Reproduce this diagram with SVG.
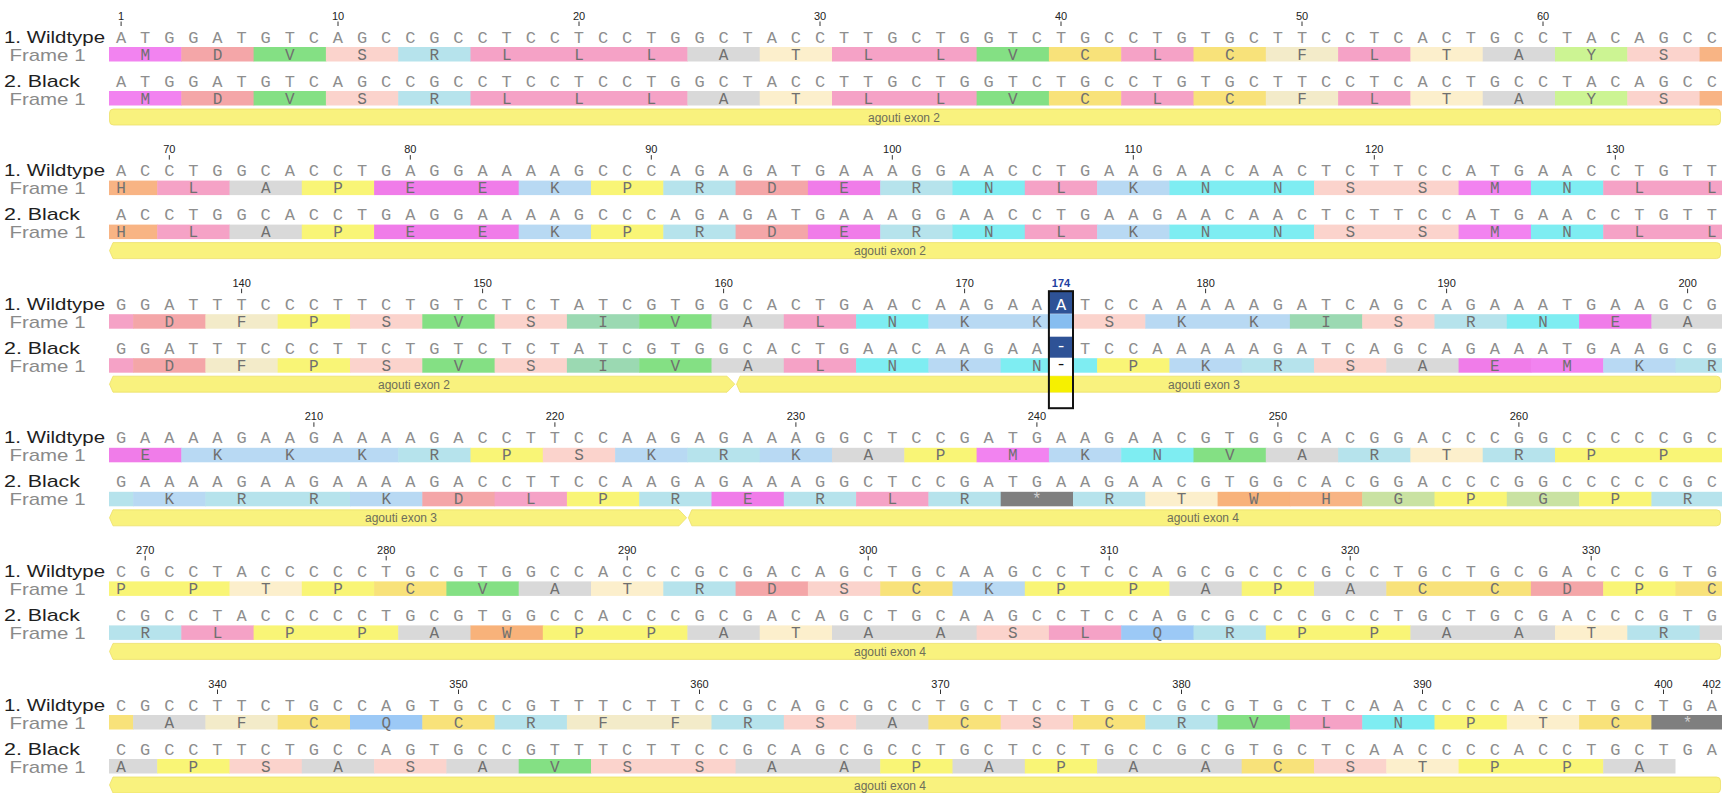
<svg xmlns="http://www.w3.org/2000/svg" width="1722" height="793" viewBox="0 0 1722 793">
<style>
.lab{font-family:"Liberation Sans",Arial,sans-serif;font-size:17px;fill:#1e1e1e}
.frm{font-family:"Liberation Sans",Arial,sans-serif;font-size:17px;fill:#8a8a8a}
.num{font-family:"Liberation Sans",Arial,sans-serif;font-size:11px;fill:#222;text-anchor:middle}
.sel{font-family:"Liberation Sans",Arial,sans-serif;font-size:11px;font-weight:bold;fill:#1f3f9f;text-anchor:middle}
.tk{stroke:#333;stroke-width:1;fill:none}
.seq{font-family:"Liberation Mono","Courier New",monospace;font-size:17px;letter-spacing:13.9px;fill:#8e8e8e}
.e{letter-spacing:0}
.aa{font-family:"Liberation Mono","Courier New",monospace;font-size:16px;fill:#707070;text-anchor:middle}
.ft{fill:#f9f27e;stroke:#ece06a;stroke-width:0.8}
.fl{font-family:"Liberation Sans",Arial,sans-serif;font-size:12px;fill:#6e6e5a;text-anchor:middle}
.hl{font-family:"Liberation Mono","Courier New",monospace;font-size:17px;text-anchor:middle}
.aM{fill:#f283f0}.aD{fill:#f4a6a8}.aV{fill:#84e084}.aS{fill:#fbd3cc}.aR{fill:#b6e3ec}
.aL{fill:#f5a2c6}.aA{fill:#d9d9d9}.aT{fill:#fcefcc}.aC{fill:#f8e27a}.aF{fill:#f3ebc9}
.aY{fill:#ccf493}.aH{fill:#f8b484}.aP{fill:#f9f576}.aE{fill:#f07ce9}.aK{fill:#b8d9f3}
.aN{fill:#7eedf2}.aI{fill:#9bd9b2}.aQ{fill:#9cc9f6}.aW{fill:#f8b27a}.aG{fill:#c9e2a2}.aX{fill:#7f7f7f}
</style>
<rect width="1722" height="793" fill="#ffffff"/>

<!-- Block 1 : 1-67 -->
<g id="block1">
<path class="tk" d="M121.1 21.5v4.5M338 21.5v4.5M579 21.5v4.5M820 21.5v4.5M1061 21.5v4.5M1302 21.5v4.5M1543 21.5v4.5"/>
<text class="num" x="121.1" y="19.5">1</text><text class="num" x="338" y="19.5">10</text><text class="num" x="579" y="19.5">20</text><text class="num" x="820" y="19.5">30</text><text class="num" x="1061" y="19.5">40</text><text class="num" x="1302" y="19.5">50</text><text class="num" x="1543" y="19.5">60</text>
<text class="lab" x="4" y="42.5" textLength="101" lengthAdjust="spacingAndGlyphs">1. Wildtype</text>
<text class="frm" x="9.5" y="60.5" textLength="76" lengthAdjust="spacingAndGlyphs">Frame 1</text>
<text class="lab" x="4" y="86.5" textLength="76" lengthAdjust="spacingAndGlyphs">2. Black</text>
<text class="frm" x="9.5" y="104.5" textLength="76" lengthAdjust="spacingAndGlyphs">Frame 1</text>
<text class="seq" x="115.95" y="42.5">ATGGATGTCAGCCGCCTCCTCCTGGCTACCTTGCTGGTCTGCCTGTGCTTCCTCACTGCCTACAGC<tspan class="e">C</tspan></text>
<text class="seq" x="115.95" y="86.5">ATGGATGTCAGCCGCCTCCTCCTGGCTACCTTGCTGGTCTGCCTGTGCTTCCTCACTGCCTACAGC<tspan class="e">C</tspan></text>
<g id="b1wt" transform="translate(0,47)">
<rect class="aM" x="109" width="72.8" height="14.5"/><rect class="aD" x="181.3" width="72.8" height="14.5"/><rect class="aV" x="253.6" width="72.8" height="14.5"/><rect class="aS" x="325.9" width="72.8" height="14.5"/><rect class="aR" x="398.2" width="72.8" height="14.5"/><rect class="aL" x="470.5" width="217.4" height="14.5"/><rect class="aA" x="687.4" width="72.8" height="14.5"/><rect class="aT" x="759.7" width="72.8" height="14.5"/><rect class="aL" x="832" width="145.1" height="14.5"/><rect class="aV" x="976.6" width="72.8" height="14.5"/><rect class="aC" x="1048.9" width="72.8" height="14.5"/><rect class="aL" x="1121.2" width="72.8" height="14.5"/><rect class="aC" x="1193.5" width="72.8" height="14.5"/><rect class="aF" x="1265.8" width="72.8" height="14.5"/><rect class="aL" x="1338.1" width="72.8" height="14.5"/><rect class="aT" x="1410.4" width="72.8" height="14.5"/><rect class="aA" x="1482.7" width="72.8" height="14.5"/><rect class="aY" x="1555" width="72.8" height="14.5"/><rect class="aS" x="1627.3" width="72.8" height="14.5"/><rect class="aH" x="1699.6" width="24.6" height="14.5"/>
</g>
<g id="b1bk" transform="translate(0,91)">
<rect class="aM" x="109" width="72.8" height="14.5"/><rect class="aD" x="181.3" width="72.8" height="14.5"/><rect class="aV" x="253.6" width="72.8" height="14.5"/><rect class="aS" x="325.9" width="72.8" height="14.5"/><rect class="aR" x="398.2" width="72.8" height="14.5"/><rect class="aL" x="470.5" width="217.4" height="14.5"/><rect class="aA" x="687.4" width="72.8" height="14.5"/><rect class="aT" x="759.7" width="72.8" height="14.5"/><rect class="aL" x="832" width="145.1" height="14.5"/><rect class="aV" x="976.6" width="72.8" height="14.5"/><rect class="aC" x="1048.9" width="72.8" height="14.5"/><rect class="aL" x="1121.2" width="72.8" height="14.5"/><rect class="aC" x="1193.5" width="72.8" height="14.5"/><rect class="aF" x="1265.8" width="72.8" height="14.5"/><rect class="aL" x="1338.1" width="72.8" height="14.5"/><rect class="aT" x="1410.4" width="72.8" height="14.5"/><rect class="aA" x="1482.7" width="72.8" height="14.5"/><rect class="aY" x="1555" width="72.8" height="14.5"/><rect class="aS" x="1627.3" width="72.8" height="14.5"/><rect class="aH" x="1699.6" width="24.6" height="14.5"/>
</g>
<text class="aa" y="59.5" x="145.2 217.5 289.8 362.1 434.4 506.7 579 651.3 723.6 795.9 868.2 940.5 1012.8 1085.1 1157.4 1229.7 1302 1374.3 1446.6 1518.9 1591.2 1663.5">MDVSRLLLATLLVCLCFLTAYS</text>
<text class="aa" y="103.5" x="145.2 217.5 289.8 362.1 434.4 506.7 579 651.3 723.6 795.9 868.2 940.5 1012.8 1085.1 1157.4 1229.7 1302 1374.3 1446.6 1518.9 1591.2 1663.5">MDVSRLLLATLLVCLCFLTAYS</text>
<rect class="ft" x="109.5" y="109" width="1611" height="16" rx="4"/>
<text class="fl" x="904" y="121.5">agouti exon 2</text>
</g>

<!-- Block 2 : 68-134 -->
<g id="block2" transform="translate(0,133.6)">
<path class="tk" d="M169.3 21.5v4.5M410.3 21.5v4.5M651.3 21.5v4.5M892.3 21.5v4.5M1133.3 21.5v4.5M1374.3 21.5v4.5M1615.3 21.5v4.5"/>
<text class="num" x="169.3" y="19.5">70</text><text class="num" x="410.3" y="19.5">80</text><text class="num" x="651.3" y="19.5">90</text><text class="num" x="892.3" y="19.5">100</text><text class="num" x="1133.3" y="19.5">110</text><text class="num" x="1374.3" y="19.5">120</text><text class="num" x="1615.3" y="19.5">130</text>
<text class="lab" x="4" y="42.5" textLength="101" lengthAdjust="spacingAndGlyphs">1. Wildtype</text>
<text class="frm" x="9.5" y="60.5" textLength="76" lengthAdjust="spacingAndGlyphs">Frame 1</text>
<text class="lab" x="4" y="86.5" textLength="76" lengthAdjust="spacingAndGlyphs">2. Black</text>
<text class="frm" x="9.5" y="104.5" textLength="76" lengthAdjust="spacingAndGlyphs">Frame 1</text>
<text class="seq" x="115.95" y="42.5">ACCTGGCACCTGAGGAAAAGCCCAGAGATGAAAGGAACCTGAAGAACAACTCTTCCATGAACCTGT<tspan class="e">T</tspan></text>
<text class="seq" x="115.95" y="86.5">ACCTGGCACCTGAGGAAAAGCCCAGAGATGAAAGGAACCTGAAGAACAACTCTTCCATGAACCTGT<tspan class="e">T</tspan></text>
<g id="b2wt" transform="translate(0,47)">
<rect class="aH" x="109" width="48.7" height="14.5"/><rect class="aL" x="157.2" width="72.8" height="14.5"/><rect class="aA" x="229.5" width="72.8" height="14.5"/><rect class="aP" x="301.8" width="72.8" height="14.5"/><rect class="aE" x="374.1" width="145.1" height="14.5"/><rect class="aK" x="518.7" width="72.8" height="14.5"/><rect class="aP" x="591" width="72.8" height="14.5"/><rect class="aR" x="663.3" width="72.8" height="14.5"/><rect class="aD" x="735.6" width="72.8" height="14.5"/><rect class="aE" x="807.9" width="72.8" height="14.5"/><rect class="aR" x="880.2" width="72.8" height="14.5"/><rect class="aN" x="952.5" width="72.8" height="14.5"/><rect class="aL" x="1024.8" width="72.8" height="14.5"/><rect class="aK" x="1097.1" width="72.8" height="14.5"/><rect class="aN" x="1169.4" width="145.1" height="14.5"/><rect class="aS" x="1314" width="145.1" height="14.5"/><rect class="aM" x="1458.6" width="72.8" height="14.5"/><rect class="aN" x="1530.9" width="72.8" height="14.5"/><rect class="aL" x="1603.2" width="121" height="14.5"/>
</g>
<g id="b2bk" transform="translate(0,91)">
<rect class="aH" x="109" width="48.7" height="14.5"/><rect class="aL" x="157.2" width="72.8" height="14.5"/><rect class="aA" x="229.5" width="72.8" height="14.5"/><rect class="aP" x="301.8" width="72.8" height="14.5"/><rect class="aE" x="374.1" width="145.1" height="14.5"/><rect class="aK" x="518.7" width="72.8" height="14.5"/><rect class="aP" x="591" width="72.8" height="14.5"/><rect class="aR" x="663.3" width="72.8" height="14.5"/><rect class="aD" x="735.6" width="72.8" height="14.5"/><rect class="aE" x="807.9" width="72.8" height="14.5"/><rect class="aR" x="880.2" width="72.8" height="14.5"/><rect class="aN" x="952.5" width="72.8" height="14.5"/><rect class="aL" x="1024.8" width="72.8" height="14.5"/><rect class="aK" x="1097.1" width="72.8" height="14.5"/><rect class="aN" x="1169.4" width="145.1" height="14.5"/><rect class="aS" x="1314" width="145.1" height="14.5"/><rect class="aM" x="1458.6" width="72.8" height="14.5"/><rect class="aN" x="1530.9" width="72.8" height="14.5"/><rect class="aL" x="1603.2" width="121" height="14.5"/>
</g>
<text class="aa" y="59.5" x="121.1 193.4 265.7 338 410.3 482.6 554.9 627.2 699.5 771.8 844.1 916.4 988.7 1061 1133.3 1205.6 1277.9 1350.2 1422.5 1494.8 1567.1 1639.4 1711.7">HLAPEEKPRDERNLKNNSSMNLL</text>
<text class="aa" y="103.5" x="121.1 193.4 265.7 338 410.3 482.6 554.9 627.2 699.5 771.8 844.1 916.4 988.7 1061 1133.3 1205.6 1277.9 1350.2 1422.5 1494.8 1567.1 1639.4 1711.7">HLAPEEKPRDERNLKNNSSMNLL</text>
<path class="ft" d="M113 109H1716.5Q1720.5 109 1720.5 113V121Q1720.5 125 1716.5 125H113L109.5 117Z"/>
<text class="fl" x="890" y="121.5">agouti exon 2</text>
</g>

<!-- Block 3 : 135-201 -->
<g id="block3" transform="translate(0,267.2)">
<path class="tk" d="M241.6 21.5v4.5M482.6 21.5v4.5M723.6 21.5v4.5M964.6 21.5v4.5M1205.6 21.5v4.5M1446.6 21.5v4.5M1687.6 21.5v4.5"/>
<text class="num" x="241.6" y="19.5">140</text><text class="num" x="482.6" y="19.5">150</text><text class="num" x="723.6" y="19.5">160</text><text class="num" x="964.6" y="19.5">170</text><text class="num" x="1205.6" y="19.5">180</text><text class="num" x="1446.6" y="19.5">190</text><text class="num" x="1687.6" y="19.5">200</text>
<text class="lab" x="4" y="42.5" textLength="101" lengthAdjust="spacingAndGlyphs">1. Wildtype</text>
<text class="frm" x="9.5" y="60.5" textLength="76" lengthAdjust="spacingAndGlyphs">Frame 1</text>
<text class="lab" x="4" y="86.5" textLength="76" lengthAdjust="spacingAndGlyphs">2. Black</text>
<text class="frm" x="9.5" y="104.5" textLength="76" lengthAdjust="spacingAndGlyphs">Frame 1</text>
<text class="seq" x="115.95" y="42.5">GGATTTCCCTTCTGTCTCTATCGTGGCACTGAACAAGA<tspan class="e">A</tspan></text>
<text class="seq" x="1079.95" y="42.5">TCCAAAAAGATCAGCAGAAATGAAGC<tspan class="e">G</tspan></text>
<text class="seq" x="115.95" y="86.5">GGATTTCCCTTCTGTCTCTATCGTGGCACTGAACAAGA<tspan class="e">A</tspan></text>
<text class="seq" x="1079.95" y="86.5">TCCAAAAAGATCAGCAGAAATGAAGC<tspan class="e">G</tspan></text>
<g id="b3wt" transform="translate(0,47)">
<rect class="aL" x="109" width="24.6" height="14.5"/><rect class="aD" x="133.1" width="72.8" height="14.5"/><rect class="aF" x="205.4" width="72.8" height="14.5"/><rect class="aP" x="277.7" width="72.8" height="14.5"/><rect class="aS" x="350" width="72.8" height="14.5"/><rect class="aV" x="422.3" width="72.8" height="14.5"/><rect class="aS" x="494.6" width="72.8" height="14.5"/><rect class="aI" x="566.9" width="72.8" height="14.5"/><rect class="aV" x="639.2" width="72.8" height="14.5"/><rect class="aA" x="711.5" width="72.8" height="14.5"/><rect class="aL" x="783.8" width="72.8" height="14.5"/><rect class="aN" x="856.1" width="72.8" height="14.5"/><rect class="aK" x="928.4" width="145.1" height="14.5"/><rect class="aS" x="1073" width="72.8" height="14.5"/><rect class="aK" x="1145.3" width="145.1" height="14.5"/><rect class="aI" x="1289.9" width="72.8" height="14.5"/><rect class="aS" x="1362.2" width="72.8" height="14.5"/><rect class="aR" x="1434.5" width="72.8" height="14.5"/><rect class="aN" x="1506.8" width="72.8" height="14.5"/><rect class="aE" x="1579.1" width="72.8" height="14.5"/><rect class="aA" x="1651.4" width="72.8" height="14.5"/>
</g>
<g id="b3bk" transform="translate(0,91)">
<rect class="aL" x="109" width="24.6" height="14.5"/><rect class="aD" x="133.1" width="72.8" height="14.5"/><rect class="aF" x="205.4" width="72.8" height="14.5"/><rect class="aP" x="277.7" width="72.8" height="14.5"/><rect class="aS" x="350" width="72.8" height="14.5"/><rect class="aV" x="422.3" width="72.8" height="14.5"/><rect class="aS" x="494.6" width="72.8" height="14.5"/><rect class="aI" x="566.9" width="72.8" height="14.5"/><rect class="aV" x="639.2" width="72.8" height="14.5"/><rect class="aA" x="711.5" width="72.8" height="14.5"/><rect class="aL" x="783.8" width="72.8" height="14.5"/><rect class="aN" x="856.1" width="72.8" height="14.5"/><rect class="aK" x="928.4" width="72.8" height="14.5"/><rect class="aN" x="1000.7" width="48.2" height="14.5"/><rect class="aN" x="1073" width="24.6" height="14.5"/><rect class="aP" x="1097.1" width="72.8" height="14.5"/><rect class="aK" x="1169.4" width="72.8" height="14.5"/><rect class="aR" x="1241.7" width="72.8" height="14.5"/><rect class="aS" x="1314" width="72.8" height="14.5"/><rect class="aA" x="1386.3" width="72.8" height="14.5"/><rect class="aE" x="1458.6" width="72.8" height="14.5"/><rect class="aM" x="1530.9" width="72.8" height="14.5"/><rect class="aK" x="1603.2" width="72.8" height="14.5"/><rect class="aR" x="1675.5" width="48.7" height="14.5"/>
</g>
<text class="aa" y="59.5" x="169.3 241.6 313.9 386.2 458.5 530.8 603.1 675.4 747.7 820 892.3 964.6 1036.9 1109.2 1181.5 1253.8 1326.1 1398.4 1470.7 1543 1615.3 1687.6">DFPSVSIVALNKKSKKISRNEA</text>
<text class="aa" y="103.5" x="169.3 241.6 313.9 386.2 458.5 530.8 603.1 675.4 747.7 820 892.3 964.6 1036.9">DFPSVSIVALNKN</text>
<text class="aa" y="103.5" x="1133.3 1205.6 1277.9 1350.2 1422.5 1494.8 1567.1 1639.4 1711.7">PKRSAEMKR</text>
<path class="ft" d="M113 109H727L734.8 117L727 125H113L109.5 117Z"/>
<path class="ft" d="M740 109H1716.5Q1720.5 109 1720.5 113V121Q1720.5 125 1716.5 125H740L736.6 117Z"/>
<text class="fl" x="414" y="121.5">agouti exon 2</text>
<text class="fl" x="1204" y="121.5">agouti exon 3</text>
<g id="selection174">
<rect x="1048.9" y="24.5" width="24.1" height="22" fill="#2e5296"/>
<rect x="1048.9" y="47" width="24.1" height="14.5" fill="#86bdf0"/>
<rect x="1048.9" y="61.5" width="24.1" height="8" fill="#ffffff"/>
<rect x="1048.9" y="69.5" width="24.1" height="21" fill="#2e5296"/>
<rect x="1048.9" y="91" width="24.1" height="14.5" fill="#ffffff"/>
<rect x="1048.9" y="109" width="24.1" height="16" fill="#f6f000"/>
<text class="hl" x="1061" y="42.5" fill="#ffffff">A</text>
<text class="hl" x="1061" y="84" fill="#ffffff">-</text>
<text class="hl" x="1061" y="102" fill="#111111">-</text>
<rect x="1048.9" y="24" width="24.1" height="117" fill="none" stroke="#111" stroke-width="2"/>
<path class="tk" d="M1061 21.5v2.5"/>
<text class="sel" x="1061" y="19.5">174</text>
</g>
</g>

<!-- Block 4 : 202-268 -->
<g id="block4" transform="translate(0,400.8)">
<path class="tk" d="M313.9 21.5v4.5M554.9 21.5v4.5M795.9 21.5v4.5M1036.9 21.5v4.5M1277.9 21.5v4.5M1518.9 21.5v4.5"/>
<text class="num" x="313.9" y="19.5">210</text><text class="num" x="554.9" y="19.5">220</text><text class="num" x="795.9" y="19.5">230</text><text class="num" x="1036.9" y="19.5">240</text><text class="num" x="1277.9" y="19.5">250</text><text class="num" x="1518.9" y="19.5">260</text>
<text class="lab" x="4" y="42.5" textLength="101" lengthAdjust="spacingAndGlyphs">1. Wildtype</text>
<text class="frm" x="9.5" y="60.5" textLength="76" lengthAdjust="spacingAndGlyphs">Frame 1</text>
<text class="lab" x="4" y="86.5" textLength="76" lengthAdjust="spacingAndGlyphs">2. Black</text>
<text class="frm" x="9.5" y="104.5" textLength="76" lengthAdjust="spacingAndGlyphs">Frame 1</text>
<text class="seq" x="115.95" y="42.5">GAAAAGAAGAAAAGACCTTCCAAGAGAAAGGCTCCGATGAAGAACGTGGCACGGACCCGGCCCCCG<tspan class="e">C</tspan></text>
<text class="seq" x="115.95" y="86.5">GAAAAGAAGAAAAGACCTTCCAAGAGAAAGGCTCCGATGAAGAACGTGGCACGGACCCGGCCCCCG<tspan class="e">C</tspan></text>
<g id="b4wt" transform="translate(0,47)">
<rect class="aE" x="109" width="72.8" height="14.5"/><rect class="aK" x="181.3" width="217.4" height="14.5"/><rect class="aR" x="398.2" width="72.8" height="14.5"/><rect class="aP" x="470.5" width="72.8" height="14.5"/><rect class="aS" x="542.8" width="72.8" height="14.5"/><rect class="aK" x="615.1" width="72.8" height="14.5"/><rect class="aR" x="687.4" width="72.8" height="14.5"/><rect class="aK" x="759.7" width="72.8" height="14.5"/><rect class="aA" x="832" width="72.8" height="14.5"/><rect class="aP" x="904.3" width="72.8" height="14.5"/><rect class="aM" x="976.6" width="72.8" height="14.5"/><rect class="aK" x="1048.9" width="72.8" height="14.5"/><rect class="aN" x="1121.2" width="72.8" height="14.5"/><rect class="aV" x="1193.5" width="72.8" height="14.5"/><rect class="aA" x="1265.8" width="72.8" height="14.5"/><rect class="aR" x="1338.1" width="72.8" height="14.5"/><rect class="aT" x="1410.4" width="72.8" height="14.5"/><rect class="aR" x="1482.7" width="72.8" height="14.5"/><rect class="aP" x="1555" width="169.2" height="14.5"/>
</g>
<g id="b4bk" transform="translate(0,91)">
<rect class="aR" x="109" width="24.6" height="14.5"/><rect class="aK" x="133.1" width="72.8" height="14.5"/><rect class="aR" x="205.4" width="145.1" height="14.5"/><rect class="aK" x="350" width="72.8" height="14.5"/><rect class="aD" x="422.3" width="72.8" height="14.5"/><rect class="aL" x="494.6" width="72.8" height="14.5"/><rect class="aP" x="566.9" width="72.8" height="14.5"/><rect class="aR" x="639.2" width="72.8" height="14.5"/><rect class="aE" x="711.5" width="72.8" height="14.5"/><rect class="aR" x="783.8" width="72.8" height="14.5"/><rect class="aL" x="856.1" width="72.8" height="14.5"/><rect class="aR" x="928.4" width="72.8" height="14.5"/><rect class="aX" x="1000.7" width="72.8" height="14.5"/><rect class="aR" x="1073" width="72.8" height="14.5"/><rect class="aT" x="1145.3" width="72.8" height="14.5"/><rect class="aW" x="1217.6" width="72.8" height="14.5"/><rect class="aH" x="1289.9" width="72.8" height="14.5"/><rect class="aG" x="1362.2" width="72.8" height="14.5"/><rect class="aP" x="1434.5" width="72.8" height="14.5"/><rect class="aG" x="1506.8" width="72.8" height="14.5"/><rect class="aP" x="1579.1" width="72.8" height="14.5"/><rect class="aR" x="1651.4" width="72.8" height="14.5"/>
</g>
<text class="aa" y="59.5" x="145.2 217.5 289.8 362.1 434.4 506.7 579 651.3 723.6 795.9 868.2 940.5 1012.8 1085.1 1157.4 1229.7 1302 1374.3 1446.6 1518.9 1591.2 1663.5">EKKKRPSKRKAPMKNVARTRPP</text>
<text class="aa" y="103.5" x="169.3 241.6 313.9 386.2 458.5 530.8 603.1 675.4 747.7 820 892.3 964.6 1036.9 1109.2 1181.5 1253.8 1326.1 1398.4 1470.7 1543 1615.3 1687.6">KRRKDLPRERLR<tspan fill="#d0d0d0">*</tspan>RTWHGPGPR</text>
<path class="ft" d="M113 109H679L686.6 117L679 125H113L109.5 117Z"/>
<path class="ft" d="M691.8 109H1716.5Q1720.5 109 1720.5 113V121Q1720.5 125 1716.5 125H691.8L688.4 117Z"/>
<text class="fl" x="401" y="121.5">agouti exon 3</text>
<text class="fl" x="1203" y="121.5">agouti exon 4</text>
</g>

<!-- Block 5 : 269-335 -->
<g id="block5" transform="translate(0,534.4)">
<path class="tk" d="M145.2 21.5v4.5M386.2 21.5v4.5M627.2 21.5v4.5M868.2 21.5v4.5M1109.2 21.5v4.5M1350.2 21.5v4.5M1591.2 21.5v4.5"/>
<text class="num" x="145.2" y="19.5">270</text><text class="num" x="386.2" y="19.5">280</text><text class="num" x="627.2" y="19.5">290</text><text class="num" x="868.2" y="19.5">300</text><text class="num" x="1109.2" y="19.5">310</text><text class="num" x="1350.2" y="19.5">320</text><text class="num" x="1591.2" y="19.5">330</text>
<text class="lab" x="4" y="42.5" textLength="101" lengthAdjust="spacingAndGlyphs">1. Wildtype</text>
<text class="frm" x="9.5" y="60.5" textLength="76" lengthAdjust="spacingAndGlyphs">Frame 1</text>
<text class="lab" x="4" y="86.5" textLength="76" lengthAdjust="spacingAndGlyphs">2. Black</text>
<text class="frm" x="9.5" y="104.5" textLength="76" lengthAdjust="spacingAndGlyphs">Frame 1</text>
<text class="seq" x="115.95" y="42.5">CGCCTACCCCCTGCGTGGCCACCCGCGACAGCTGCAAGCCTCCAGCGCCCGCCTGCTGCGACCCGT<tspan class="e">G</tspan></text>
<text class="seq" x="115.95" y="86.5">CGCCTACCCCCTGCGTGGCCACCCGCGACAGCTGCAAGCCTCCAGCGCCCGCCTGCTGCGACCCGT<tspan class="e">G</tspan></text>
<g id="b5wt" transform="translate(0,47)">
<rect class="aP" x="109" width="121" height="14.5"/><rect class="aT" x="229.5" width="72.8" height="14.5"/><rect class="aP" x="301.8" width="72.8" height="14.5"/><rect class="aC" x="374.1" width="72.8" height="14.5"/><rect class="aV" x="446.4" width="72.8" height="14.5"/><rect class="aA" x="518.7" width="72.8" height="14.5"/><rect class="aT" x="591" width="72.8" height="14.5"/><rect class="aR" x="663.3" width="72.8" height="14.5"/><rect class="aD" x="735.6" width="72.8" height="14.5"/><rect class="aS" x="807.9" width="72.8" height="14.5"/><rect class="aC" x="880.2" width="72.8" height="14.5"/><rect class="aK" x="952.5" width="72.8" height="14.5"/><rect class="aP" x="1024.8" width="145.1" height="14.5"/><rect class="aA" x="1169.4" width="72.8" height="14.5"/><rect class="aP" x="1241.7" width="72.8" height="14.5"/><rect class="aA" x="1314" width="72.8" height="14.5"/><rect class="aC" x="1386.3" width="145.1" height="14.5"/><rect class="aD" x="1530.9" width="72.8" height="14.5"/><rect class="aP" x="1603.2" width="72.8" height="14.5"/><rect class="aC" x="1675.5" width="48.7" height="14.5"/>
</g>
<g id="b5bk" transform="translate(0,91)">
<rect class="aR" x="109" width="72.8" height="14.5"/><rect class="aL" x="181.3" width="72.8" height="14.5"/><rect class="aP" x="253.6" width="145.1" height="14.5"/><rect class="aA" x="398.2" width="72.8" height="14.5"/><rect class="aW" x="470.5" width="72.8" height="14.5"/><rect class="aP" x="542.8" width="145.1" height="14.5"/><rect class="aA" x="687.4" width="72.8" height="14.5"/><rect class="aT" x="759.7" width="72.8" height="14.5"/><rect class="aA" x="832" width="145.1" height="14.5"/><rect class="aS" x="976.6" width="72.8" height="14.5"/><rect class="aL" x="1048.9" width="72.8" height="14.5"/><rect class="aQ" x="1121.2" width="72.8" height="14.5"/><rect class="aR" x="1193.5" width="72.8" height="14.5"/><rect class="aP" x="1265.8" width="145.1" height="14.5"/><rect class="aA" x="1410.4" width="145.1" height="14.5"/><rect class="aT" x="1555" width="72.8" height="14.5"/><rect class="aR" x="1627.3" width="72.8" height="14.5"/><rect class="aA" x="1699.6" width="24.6" height="14.5"/>
</g>
<text class="aa" y="59.5" x="121.1 193.4 265.7 338 410.3 482.6 554.9 627.2 699.5 771.8 844.1 916.4 988.7 1061 1133.3 1205.6 1277.9 1350.2 1422.5 1494.8 1567.1 1639.4 1711.7">PPTPCVATRDSCKPPAPACCDPC</text>
<text class="aa" y="103.5" x="145.2 217.5 289.8 362.1 434.4 506.7 579 651.3 723.6 795.9 868.2 940.5 1012.8 1085.1 1157.4 1229.7 1302 1374.3 1446.6 1518.9 1591.2 1663.5">RLPPAWPPATAASLQRPPAATR</text>
<path class="ft" d="M113 109H1716.5Q1720.5 109 1720.5 113V121Q1720.5 125 1716.5 125H113L109.5 117Z"/>
<text class="fl" x="890" y="121.5">agouti exon 4</text>
</g>

<!-- Block 6 : 336-402 -->
<g id="block6" transform="translate(0,668)">
<path class="tk" d="M217.5 21.5v4.5M458.5 21.5v4.5M699.5 21.5v4.5M940.5 21.5v4.5M1181.5 21.5v4.5M1422.5 21.5v4.5M1663.5 21.5v4.5M1711.7 21.5v4.5"/>
<text class="num" x="217.5" y="19.5">340</text><text class="num" x="458.5" y="19.5">350</text><text class="num" x="699.5" y="19.5">360</text><text class="num" x="940.5" y="19.5">370</text><text class="num" x="1181.5" y="19.5">380</text><text class="num" x="1422.5" y="19.5">390</text><text class="num" x="1663.5" y="19.5">400</text><text class="num" x="1711.7" y="19.5">402</text>
<text class="lab" x="4" y="42.5" textLength="101" lengthAdjust="spacingAndGlyphs">1. Wildtype</text>
<text class="frm" x="9.5" y="60.5" textLength="76" lengthAdjust="spacingAndGlyphs">Frame 1</text>
<text class="lab" x="4" y="86.5" textLength="76" lengthAdjust="spacingAndGlyphs">2. Black</text>
<text class="frm" x="9.5" y="104.5" textLength="76" lengthAdjust="spacingAndGlyphs">Frame 1</text>
<text class="seq" x="115.95" y="42.5">CGCCTTCTGCCAGTGCCGTTTCTTCCGCAGCGCCTGCTCCTGCCGCGTGCTCAACCCCACCTGCTG<tspan class="e">A</tspan></text>
<text class="seq" x="115.95" y="86.5">CGCCTTCTGCCAGTGCCGTTTCTTCCGCAGCGCCTGCTCCTGCCGCGTGCTCAACCCCACCTGCTG<tspan class="e">A</tspan></text>
<g id="b6wt" transform="translate(0,47)">
<rect class="aC" x="109" width="24.6" height="14.5"/><rect class="aA" x="133.1" width="72.8" height="14.5"/><rect class="aF" x="205.4" width="72.8" height="14.5"/><rect class="aC" x="277.7" width="72.8" height="14.5"/><rect class="aQ" x="350" width="72.8" height="14.5"/><rect class="aC" x="422.3" width="72.8" height="14.5"/><rect class="aR" x="494.6" width="72.8" height="14.5"/><rect class="aF" x="566.9" width="145.1" height="14.5"/><rect class="aR" x="711.5" width="72.8" height="14.5"/><rect class="aS" x="783.8" width="72.8" height="14.5"/><rect class="aA" x="856.1" width="72.8" height="14.5"/><rect class="aC" x="928.4" width="72.8" height="14.5"/><rect class="aS" x="1000.7" width="72.8" height="14.5"/><rect class="aC" x="1073" width="72.8" height="14.5"/><rect class="aR" x="1145.3" width="72.8" height="14.5"/><rect class="aV" x="1217.6" width="72.8" height="14.5"/><rect class="aL" x="1289.9" width="72.8" height="14.5"/><rect class="aN" x="1362.2" width="72.8" height="14.5"/><rect class="aP" x="1434.5" width="72.8" height="14.5"/><rect class="aT" x="1506.8" width="72.8" height="14.5"/><rect class="aC" x="1579.1" width="72.8" height="14.5"/><rect class="aX" x="1651.4" width="72.8" height="14.5"/>
</g>
<g id="b6bk" transform="translate(0,91)">
<rect class="aA" x="109" width="48.7" height="14.5"/><rect class="aP" x="157.2" width="72.8" height="14.5"/><rect class="aS" x="229.5" width="72.8" height="14.5"/><rect class="aA" x="301.8" width="72.8" height="14.5"/><rect class="aS" x="374.1" width="72.8" height="14.5"/><rect class="aA" x="446.4" width="72.8" height="14.5"/><rect class="aV" x="518.7" width="72.8" height="14.5"/><rect class="aS" x="591" width="145.1" height="14.5"/><rect class="aA" x="735.6" width="145.1" height="14.5"/><rect class="aP" x="880.2" width="72.8" height="14.5"/><rect class="aA" x="952.5" width="72.8" height="14.5"/><rect class="aP" x="1024.8" width="72.8" height="14.5"/><rect class="aA" x="1097.1" width="145.1" height="14.5"/><rect class="aC" x="1241.7" width="72.8" height="14.5"/><rect class="aS" x="1314" width="72.8" height="14.5"/><rect class="aT" x="1386.3" width="72.8" height="14.5"/><rect class="aP" x="1458.6" width="145.1" height="14.5"/><rect class="aA" x="1603.2" width="72.3" height="14.5"/>
</g>
<text class="aa" y="59.5" x="169.3 241.6 313.9 386.2 458.5 530.8 603.1 675.4 747.7 820 892.3 964.6 1036.9 1109.2 1181.5 1253.8 1326.1 1398.4 1470.7 1543 1615.3 1687.6">AFCQCRFFRSACSCRVLNPTC<tspan fill="#d0d0d0">*</tspan></text>
<text class="aa" y="103.5" x="121.1 193.4 265.7 338 410.3 482.6 554.9 627.2 699.5 771.8 844.1 916.4 988.7 1061 1133.3 1205.6 1277.9 1350.2 1422.5 1494.8 1567.1 1639.4">APSASAVSSAAPAPAACSTPPA</text>
<path class="ft" d="M113 109H1716.5Q1720.5 109 1720.5 113V121Q1720.5 125 1716.5 125H113L109.5 117Z"/>
<text class="fl" x="890" y="121.5">agouti exon 4</text>
</g>
</svg>
